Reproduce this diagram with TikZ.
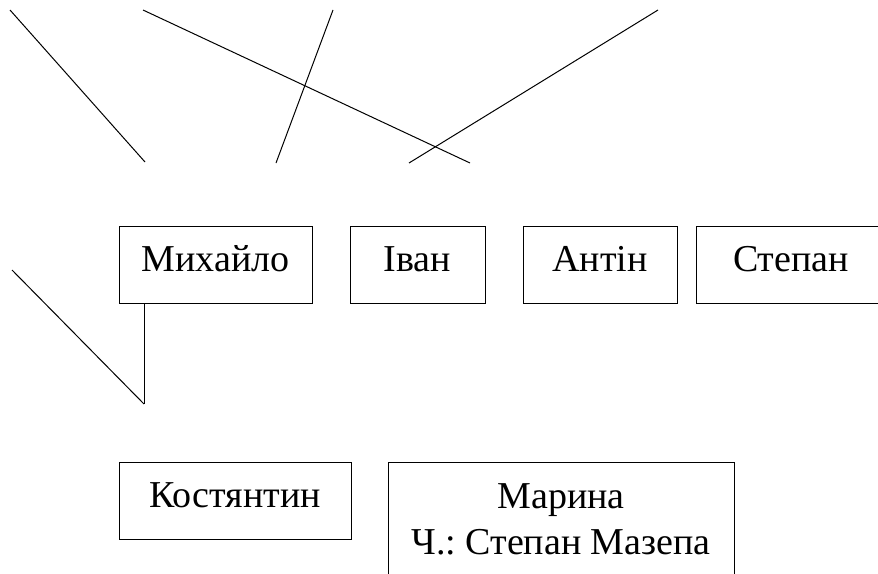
\documentclass[tikz,border=0pt]{standalone}
\usepackage{fontspec}
\setmainfont{Liberation Serif}
\newfontfamily\namefont{Liberation Serif}
\frenchspacing

\begin{document}
\begin{tikzpicture}[x=0.5pt,y=-0.5pt,line width=0.5pt,
    person/.style={draw,minimum height=38.5pt,inner sep=0pt,align=center,
                   text height=12pt,text depth=5.5pt,
                   font=\namefont\fontsize{19}{23}\selectfont}]
\useasboundingbox (0,0) rectangle (878,573);
\clip (0,0) rectangle (878,573);
% free ends of the lines
\foreach \n/\x/\y in {a1/10/10, b1/145/162, a2/143/10, b2/470/163,
                      a3/333/10, b3/276/163, a4/658/10, b4/409/163,
                      a5/12/270, b5/144/404}
    \coordinate (\n) at (\x, \y);
% first row
\foreach \n/\x/\w/\t in {mykh/215.5/96.5/Михайло, ivan/417.5/67.5/Іван,
                         antin/600/77/Антін, stepan/791/95/Степан}
    \node[person,minimum width=\w pt] (\n) at (\x, 264.5) {\t};
% second row
\node[person,minimum width=116pt] (kost) at (235, 500.5) {Костянтин};
\node[draw,minimum width=173pt,minimum height=57pt,align=center,inner sep=0pt,
      font=\namefont\fontsize{19}{23}\selectfont] (maryna) at (561, 519)
    {Марина\\Ч.: Степан Мазепа};
\foreach \a/\b in {a1/b1, a2/b2, a3/b3, a4/b4, a5/b5}
    \draw (\a) -- (\b);
\draw (b5 |- mykh.south) -- (b5);
\end{tikzpicture}
\end{document}
